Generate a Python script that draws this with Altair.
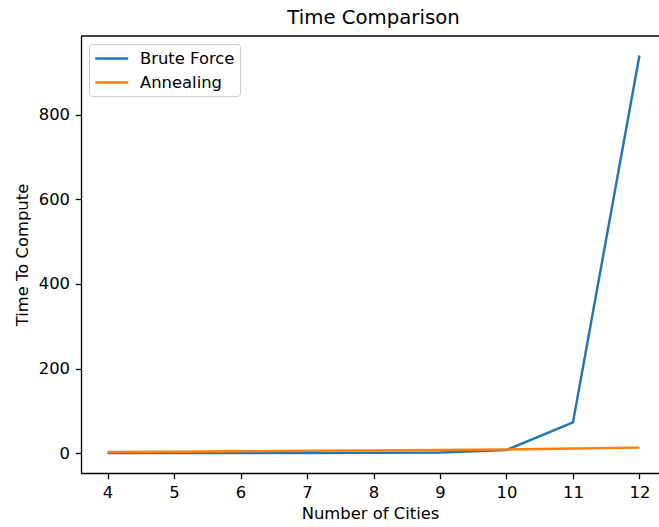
import altair as alt
import pandas as pd

cities = [4, 5, 6, 7, 8, 9, 10, 11, 12]
brute_force = [0.01, 0.05, 0.2, 0.5, 1.0, 1.4, 7.5, 72.5, 940]
annealing = [2.5, 3.3, 4.5, 5.5, 6.5, 7.5, 8.7, 11.0, 13.0]
series_names = ["Brute Force", "Annealing"]
series_colors = ["#1f77b4", "#ff7f0e"]
x_ticks = [4, 5, 6, 7, 8, 9, 10, 11, 12]
y_ticks = [0, 200, 400, 600, 800]

rows = []
for name, vals in zip(series_names, [brute_force, annealing]):
    for c, v in zip(cities, vals):
        rows.append({"cities": c, "time": v, "series": name})
df = pd.DataFrame(rows)

FONT = "DejaVu Sans"
W = 578
H = 437

lines = alt.Chart(df).mark_line(strokeWidth=2.45, clip=True).encode(
    x=alt.X("cities:Q",
            scale=alt.Scale(domain=[3.6, 12.294], nice=False, zero=False),
            axis=alt.Axis(values=x_ticks, title="Number of Cities", grid=False,
                          format="d", labelFlush=False, labelOverlap=False)),
    y=alt.Y("time:Q",
            scale=alt.Scale(domain=[-46.95, 985.95], nice=False, zero=False),
            axis=alt.Axis(values=y_ticks, title="Time To Compute", grid=False,
                          format="d", labelFlush=False, labelOverlap=False)),
    color=alt.Color("series:N",
                    scale=alt.Scale(domain=series_names, range=series_colors),
                    sort=series_names,
                    legend=alt.Legend(title=None, orient="none", legendX=8, legendY=8,
                                      symbolType="M-1,0H3", symbolSize=272,
                                      symbolStrokeWidth=2.45, labelOffset=27,
                                      labelFont=FONT, labelFontSize=16.4,
                                      labelColor="#000000", rowPadding=6,
                                      padding=5, strokeColor="#cccccc",
                                      fillColor="#ffffff", cornerRadius=3)),
    order=alt.Order("cities:Q"),
)

top_spine = alt.Chart(pd.DataFrame({"v": [0]})).mark_rule(
    color="#000000", strokeWidth=1.3
).encode(x=alt.value(0), x2=alt.value(W), y=alt.value(0))

chart = alt.layer(lines, top_spine).properties(
    width=W, height=H,
    title=alt.TitleParams("Time Comparison", font=FONT, fontSize=19.7,
                          fontWeight="normal", color="#000000", anchor="middle",
                          offset=7.5, dx=3.5),
    autosize=alt.AutoSizeParams(type="none"),
    padding={"left": 81, "top": 36, "right": 0, "bottom": 54},
).configure_view(stroke=None).configure_axis(
    domainColor="#000000", domainWidth=1.3, tickColor="#000000", tickWidth=1.3,
    tickSize=5.74, labelPadding=5.74, labelFont=FONT, labelFontSize=16.4,
    labelColor="#000000", titleFont=FONT, titleFontSize=16.4,
    titleFontWeight="normal", titleColor="#000000",
).configure_axisX(titlePadding=5).configure_axisY(titlePadding=8)

chart.save("out.html", embed_options={"renderer": "svg", "actions": False})
